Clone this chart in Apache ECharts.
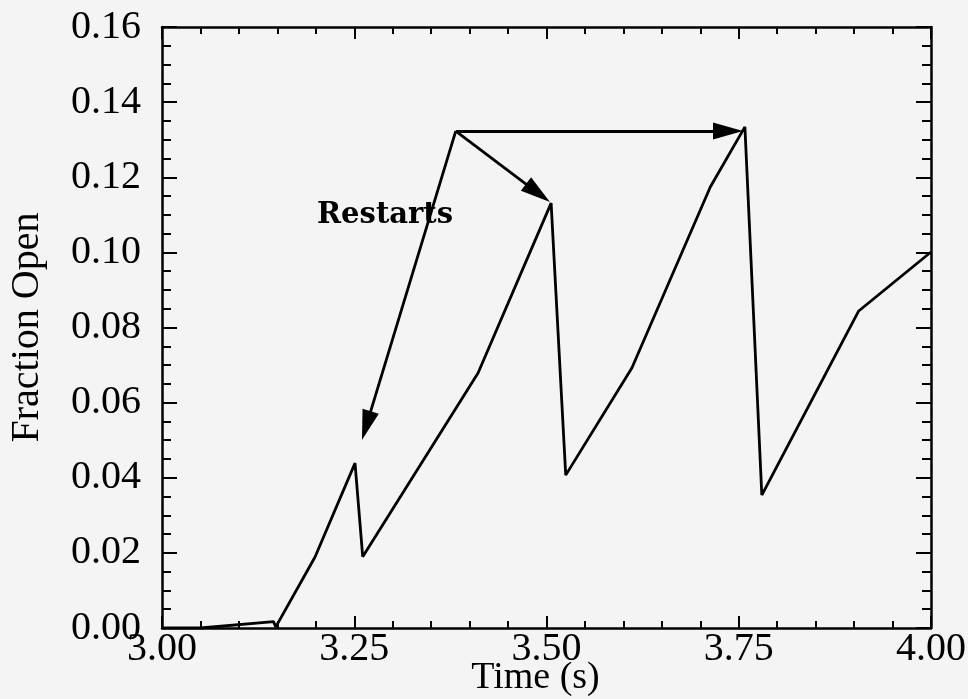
<!DOCTYPE html>
<html>
<head>
<meta charset="utf-8">
<script src="https://cdn.jsdelivr.net/npm/echarts@6/dist/echarts.min.js"></script>
<style>html,body{margin:0;padding:0;background:#f4f4f4;}#c{width:968px;height:699px;}</style>
</head>
<body>
<div id="c"></div>
<script>
// Data
var timeValues = [3.00, 3.05, 3.145, 3.148, 3.199, 3.251, 3.261, 3.411, 3.506, 3.525, 3.611, 3.713, 3.758, 3.780, 3.906, 4.00];
var fractionOpen = [0.0, 0.0, 0.0017, 0.0003, 0.0189, 0.0439, 0.0190, 0.0679, 0.1131, 0.0407, 0.0692, 0.1174, 0.1334, 0.0354, 0.0844, 0.1001];
var xTickLabels = ['3.00', '3.25', '3.50', '3.75', '4.00'];
var yTickLabels = ['0.00', '0.02', '0.04', '0.06', '0.08', '0.10', '0.12', '0.14', '0.16'];
// Annotation: "Restarts" arrows (origin and arrow-center points in data units)
var arrowOrigin = [3.382, 0.1323];
var arrowTargets = [[3.2657, 0.0539], [3.4889, 0.1158], [3.736, 0.1323]];
var annotationText = 'Restarts';

var serif = '"Liberation Serif", "Times New Roman", serif';
var chart = echarts.init(document.getElementById('c'));
var points = timeValues.map(function (t, i) { return [t, fractionOpen[i]]; });

function xLabel(v) { var s = v.toFixed(2); return xTickLabels.indexOf(s) >= 0 ? s : ''; }
function yLabel(v) { var s = v.toFixed(2); return yTickLabels.indexOf(s) >= 0 ? s : ''; }

var axisLineStyle = { color: '#000', width: 2.5 };
var baseX = {
  type: 'value', min: 3.0, max: 4.0, interval: 0.25,
  axisLine: { show: true, onZero: false, lineStyle: axisLineStyle },
  axisTick: { show: true, inside: true, length: 12, lineStyle: { color: '#000', width: 2 } },
  minorTick: { show: true, splitNumber: 5, length: 7, lineStyle: { color: '#000', width: 2 } },
  splitLine: { show: false }
};
var baseY = {
  type: 'value', min: 0, max: 0.16, interval: 0.02,
  axisLine: { show: true, onZero: false, lineStyle: axisLineStyle },
  axisTick: { show: true, inside: true, length: 15, lineStyle: { color: '#000', width: 2 } },
  minorTick: { show: true, splitNumber: 4, length: 9, lineStyle: { color: '#000', width: 2 } },
  splitLine: { show: false }
};

chart.setOption({
  backgroundColor: '#f4f4f4',
  animation: false,
  grid: { left: 162, right: 37, top: 27, bottom: 71, containLabel: false, outerBoundsMode: 'none' },
  xAxis: [
    Object.assign({}, baseX, {
      position: 'bottom',
      name: 'Time (s)', nameLocation: 'middle', nameGap: 31, nameMoveOverlap: false,
      nameTextStyle: { fontFamily: serif, fontSize: 38, color: '#000', padding: [0, 22, 0, 0] },
      axisLabel: { show: true, formatter: xLabel, margin: 1, fontFamily: serif, fontSize: 40, color: '#000' }
    }),
    Object.assign({}, baseX, { position: 'top', axisLabel: { show: false } })
  ],
  yAxis: [
    Object.assign({}, baseY, {
      position: 'left',
      name: 'Fraction Open', nameLocation: 'middle', nameGap: 115,
      nameTextStyle: { fontFamily: serif, fontSize: 40, color: '#000' },
      axisLabel: { show: true, formatter: yLabel, margin: 21, fontFamily: serif, fontSize: 40, color: '#000' }
    }),
    Object.assign({}, baseY, { position: 'right', axisLabel: { show: false } })
  ],
  graphic: [{
    type: 'text', left: 317, top: 201,
    style: { text: annotationText, font: 'bold 29px "DejaVu Serif", serif', fill: '#000' }
  }],
  series: [{
    type: 'line',
    xAxisIndex: 0, yAxisIndex: 0,
    data: points,
    showSymbol: false,
    symbol: 'none',
    lineStyle: { color: '#000', width: 2.8 },
    markLine: {
      silent: true,
      symbol: ['none', 'triangle'],
      symbolSize: [17, 30],
      label: { show: false },
      lineStyle: { color: '#000', width: 2.8, type: 'solid' },
      data: arrowTargets.map(function (t) { return [{ coord: arrowOrigin }, { coord: t }]; })
    }
  }]
});
</script>
</body>
</html>
